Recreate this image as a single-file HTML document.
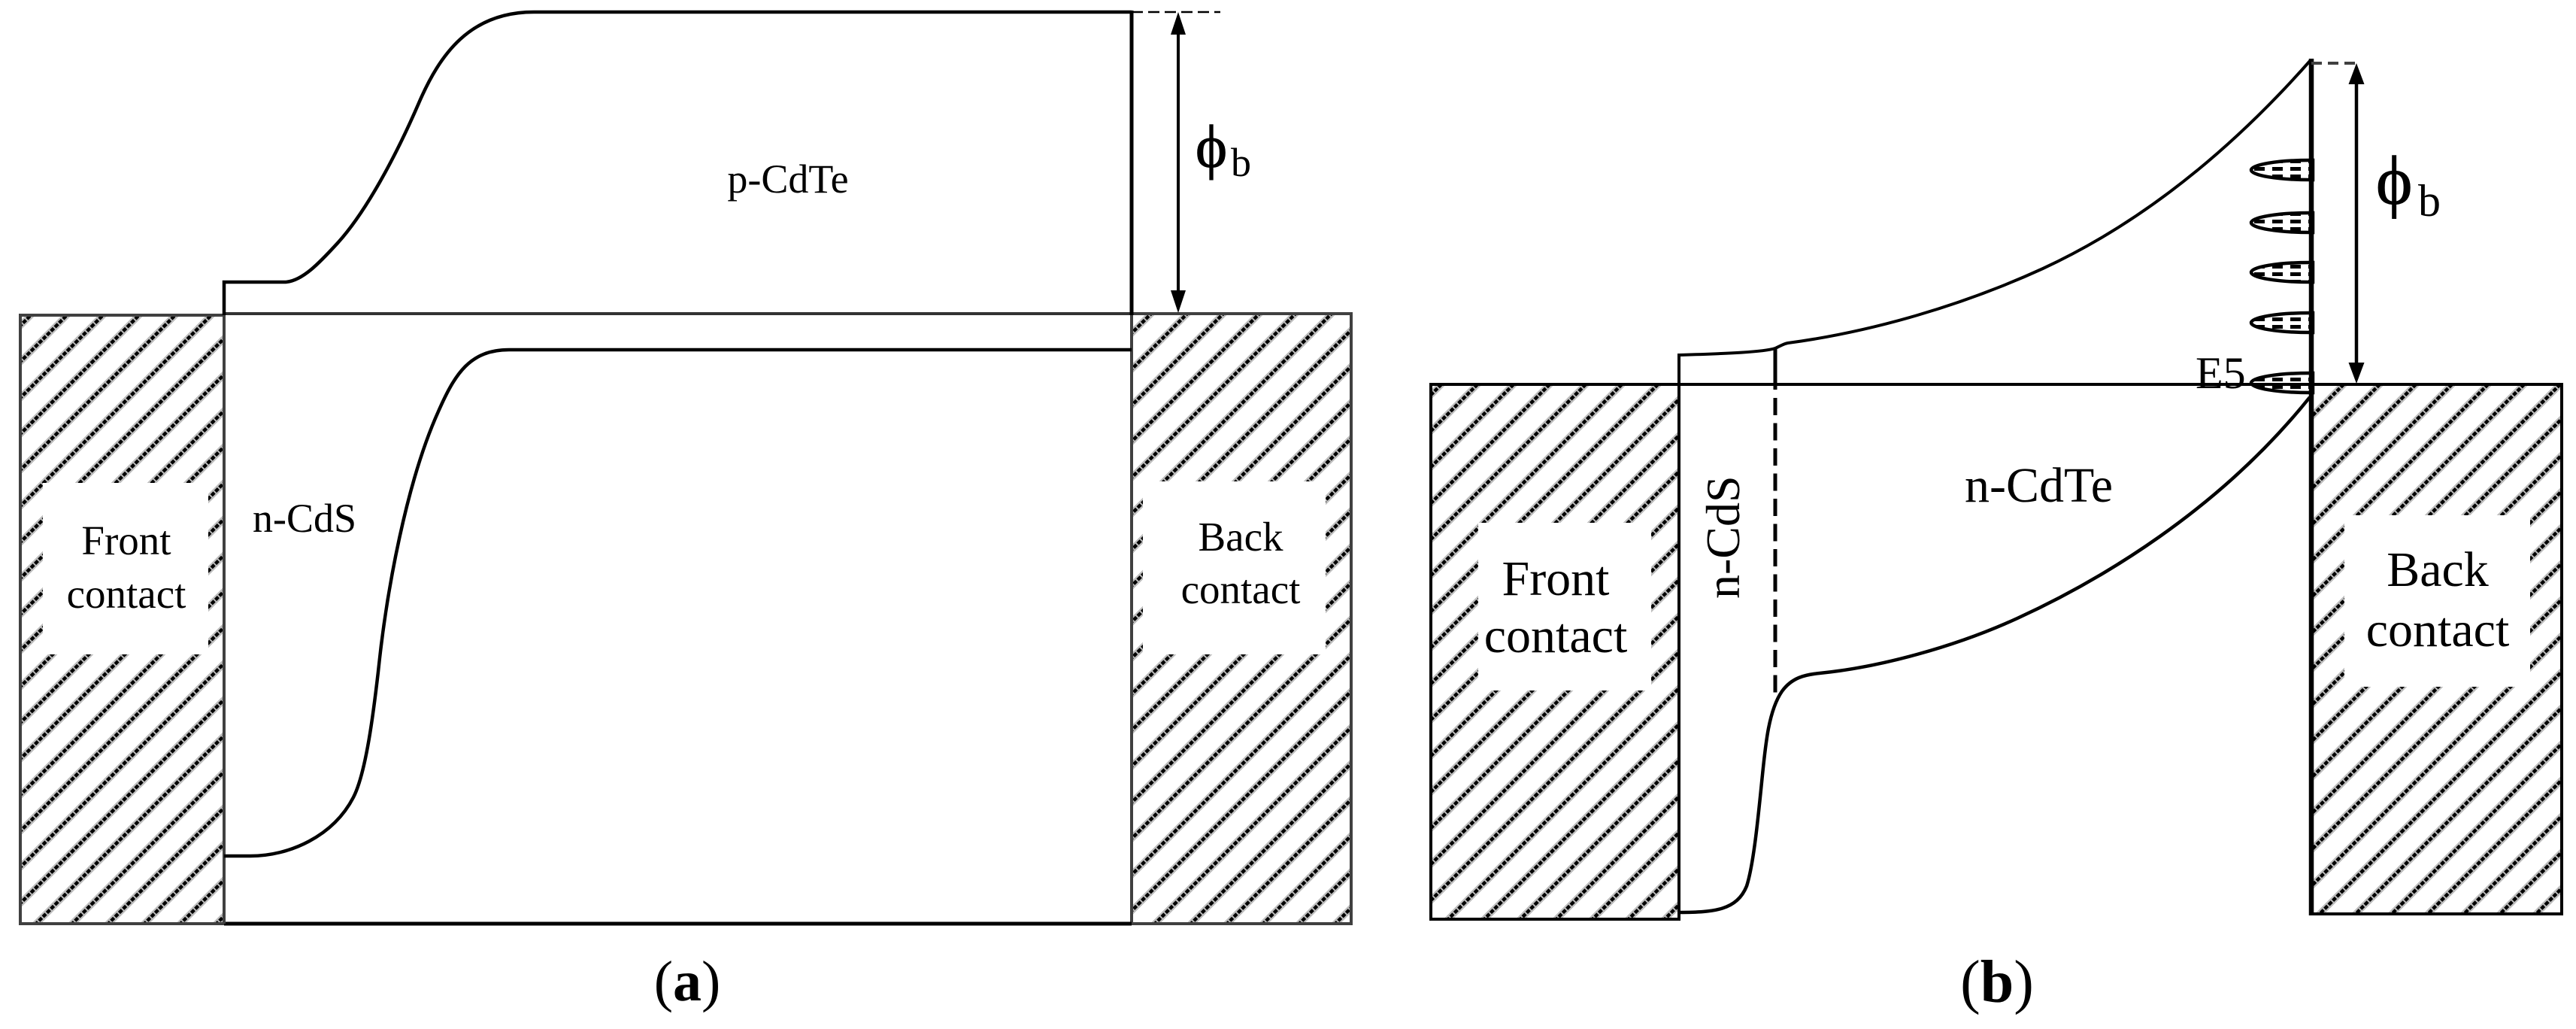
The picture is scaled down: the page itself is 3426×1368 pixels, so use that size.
<!DOCTYPE html>
<html><head><meta charset="utf-8"><style>
html,body{margin:0;padding:0;background:#fff}
svg{display:block}
text{font-family:"Liberation Serif","Times New Roman",serif;fill:#000}
</style></head><body>
<svg width="3426" height="1368" viewBox="0 0 3426 1368" xmlns="http://www.w3.org/2000/svg">
<defs>
<pattern id="h" width="48" height="48" patternUnits="userSpaceOnUse" patternTransform="translate(28,0)">
<g stroke="#bdbdbd" stroke-width="9" fill="none"><path d="M-8 56L56 -8M-8 8L8 -8M40 56L56 40"/></g>
<g stroke="#000" stroke-width="4.5" stroke-dasharray="5.5 2" fill="none"><path d="M-8 56L56 -8M-8 8L8 -8M40 56L56 40"/></g>
</pattern>
<pattern id="t" width="24" height="10" patternUnits="userSpaceOnUse" patternTransform="translate(2994,0)">
<rect x="4" y="2" width="14" height="5" fill="#000"/>
</pattern>
</defs>
<rect width="3426" height="1368" fill="#fff"/>

<!-- panel a -->
<rect x="27" y="419" width="271" height="809" fill="url(#h)" stroke="#404040" stroke-width="4"/>
<rect x="1505" y="417" width="292" height="811" fill="url(#h)" stroke="#404040" stroke-width="4"/>
<rect x="57" y="642" width="220" height="228" fill="#fff"/>
<rect x="1520" y="640" width="243" height="230" fill="#fff"/>
<g fill="none" stroke="#000" stroke-linecap="butt">
<path d="M298 1228H1505" stroke-width="5"/>
<path d="M298 417H1505" stroke="#333" stroke-width="4"/>
<path d="M298 1228V375" stroke="#404040" stroke-width="4"/>
<path d="M298 419V375H378C402 375 428 346 450 322C486 282 525 211 557 137C585 72 625 16 710 16H1505" stroke-width="4.500"/>
<path d="M1505 14V419" stroke-width="5"/>
<path d="M298 1138H333C385 1138 443 1112 470 1060C487 1027 497 945 503 893C514 785 541 640 583 547C605 497 625 465 677 465H1505" stroke-width="4.500"/>
<path d="M1505 16H1623" stroke-width="2.500" stroke-dasharray="15 7"/>
<path d="M1567 40V392" stroke-width="4"/>
</g>
<path d="M1567 16L1577 46H1557Z M1567 416L1577 386H1557Z" fill="#000"/>
<text x="168" y="737" font-size="55" text-anchor="middle">Front</text>
<text x="168" y="808" font-size="55" text-anchor="middle">contact</text>
<text x="336" y="707" font-size="54">n-CdS</text>
<text x="1048" y="256" font-size="54" text-anchor="middle">p-CdTe</text>
<text x="1650" y="732" font-size="55" text-anchor="middle">Back</text>
<text x="1650" y="802" font-size="55" text-anchor="middle">contact</text>
<text x="1590" y="222" font-size="80" stroke="#000" stroke-width="1">ϕ</text>
<text x="1637" y="234" font-size="54">b</text>
<text x="914" y="1330" font-size="76" text-anchor="middle">(<tspan font-weight="bold">a</tspan>)</text>

<!-- panel b -->
<rect x="1903" y="511" width="330" height="711" fill="url(#h)" stroke="#000" stroke-width="4"/>
<rect x="3074" y="511" width="333" height="704" fill="url(#h)" stroke="#000" stroke-width="4"/>
<rect x="1966" y="695" width="230" height="223" fill="#fff"/>
<rect x="3118" y="685" width="247" height="228" fill="#fff"/>
<g fill="none" stroke="#000">
<path d="M2233 1224V472C2300 470 2345 468 2361 463C2368 460 2372 457 2378 456C2490 441 2610 406 2717 357C2840 300 2960 208 3073 80" stroke-width="4"/>
<path d="M1903 511H3074" stroke-width="4"/>
<path d="M2361 463V518" stroke-width="5"/>
<path d="M2361 529V922" stroke-width="5" stroke-dasharray="23 10.500"/>
<path d="M2233 1213C2280 1213 2310 1210 2323 1178C2332 1150 2338 1090 2343 1040C2348 990 2352 945 2370 919C2383 901 2400 897 2420 895C2500 887 2600 860 2683 822C2790 773 2950 680 3072 528" stroke-width="4.500"/>
<path d="M3074 78V1217" stroke-width="6.500"/>
<path d="M3074 84H3134" stroke="#404040" stroke-width="4" stroke-dasharray="14 8"/>
<path d="M3134 100V495" stroke-width="4.500"/>
</g>
<path d="M3134 84L3144.500 112H3123.500Z M3134 510L3144.500 482H3123.500Z" fill="#000"/>
<g stroke="#000" stroke-width="4.500" fill="url(#t)">
<path d="M3076 213H3072A78 13 0 0 0 3072 239H3076Z"/>
<path d="M3076 283H3072A78 13 0 0 0 3072 309H3076Z"/>
<path d="M3076 349H3072A78 13 0 0 0 3072 375H3076Z"/>
<path d="M3076 416H3072A78 13 0 0 0 3072 442H3076Z"/>
<path d="M3076 496H3072A78 13 0 0 0 3072 522H3076Z"/>
</g>
<text x="2069" y="791" font-size="66" text-anchor="middle">Front</text>
<text x="2069" y="867" font-size="66" text-anchor="middle">contact</text>
<text x="3242" y="779" font-size="66" text-anchor="middle">Back</text>
<text x="3242" y="859" font-size="66" text-anchor="middle">contact</text>
<text transform="translate(2313,796) rotate(-90)" font-size="64">n-CdS</text>
<text x="2711.500" y="667" font-size="66" text-anchor="middle">n-CdTe</text>
<text x="2920" y="516" font-size="60">E5</text>
<text x="3160" y="271" font-size="92" stroke="#000" stroke-width="1">ϕ</text>
<text x="3216" y="287" font-size="60">b</text>
<text x="2656" y="1332" font-size="80" text-anchor="middle">(<tspan font-weight="bold">b</tspan>)</text>
</svg>
</body></html>
